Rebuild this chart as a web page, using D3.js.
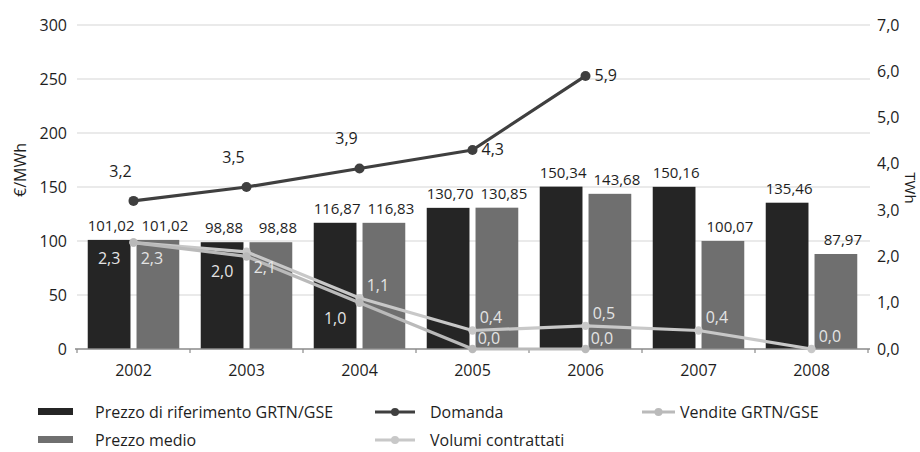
<!DOCTYPE html>
<html>
<head>
<meta charset="utf-8">
<script src="https://cdn.jsdelivr.net/npm/d3@7"></script>
<style>
  html, body { margin: 0; padding: 0; background: #ffffff; }
  svg { display: block; font-family: "Open Sans", "Noto Sans", sans-serif; }
</style>
</head>
<body>
<svg id="chart" width="920" height="452"></svg>
<script>
// ---- data ----
const years = ["2002", "2003", "2004", "2005", "2006", "2007", "2008"];
const prezzoRiferimento = [101.02, 98.88, 116.87, 130.70, 150.34, 150.16, 135.46];
const prezzoMedio = [101.02, 98.88, 116.83, 130.85, 143.68, 100.07, 87.97];
const domandaYears = ["2002", "2003", "2004", "2005", "2006"];
const domanda = [3.2, 3.5, 3.9, 4.3, 5.9];
const venditeYears = ["2002", "2003", "2004", "2005", "2006"];
const vendite = [2.3, 2.0, 1.0, 0.0, 0.0];
const volumiYears = ["2002", "2003", "2004", "2005", "2006", "2007", "2008"];
const volumi = [2.3, 2.1, 1.1, 0.4, 0.5, 0.4, 0.0];
const leftTicks = [0, 50, 100, 150, 200, 250, 300];
const rightTicks = [0, 1, 2, 3, 4, 5, 6, 7];
const leftTitle = "€/MWh";
const rightTitle = "TWh";
const legendLabels = {
  rif: "Prezzo di riferimento GRTN/GSE",
  medio: "Prezzo medio",
  domanda: "Domanda",
  volumi: "Volumi contrattati",
  vendite: "Vendite GRTN/GSE"
};

// ---- styles ----
const C = {
  rif: "#252525",
  medio: "#6f6f6f",
  domanda: "#3f3f3f",
  vendite: "#bababa",
  volumi: "#c8c8c8",
  grid: "#d6d6d6",
  axis: "#8a8a8a",
  text: "#1e1e1e",
  inner: "#e4e4e4"
};

const locale = d3.formatLocale({decimal: ",", thousands: ".", grouping: [3], currency: ["", "€"]});
const f2 = locale.format(".2f");
const f1 = locale.format(".1f");
const f0 = locale.format("d");

const svg = d3.select("#chart");
const pLeft = 77, pRight = 868, pTop = 25, pBottom = 349;

const x = d3.scaleBand().domain(years).range([pLeft, pRight]).padding(0);
const xs = d3.scaleBand().domain(["rif", "medio"]).range([0, x.bandwidth()])
  .paddingInner(0.124).paddingOuter(0.22);
const y = d3.scaleLinear().domain([0, 300]).range([pBottom, pTop]);
const yR = d3.scaleLinear().domain([0, 7]).range([pBottom, pTop]);
const cx = yr => x(yr) + x.bandwidth() / 2;

// gridlines
svg.append("g").selectAll("line").data(leftTicks.filter(d => d > 0)).join("line")
  .attr("x1", pLeft).attr("x2", pRight + 2)
  .attr("y1", d => y(d)).attr("y2", d => y(d))
  .attr("stroke", C.grid).attr("stroke-width", 1.2);

// left axis
const gL = svg.append("g").attr("transform", `translate(${pLeft},0)`)
  .call(d3.axisLeft(y).tickValues(leftTicks).tickFormat(f0).tickSize(0).tickPadding(10));
gL.select(".domain").remove();
gL.selectAll("text").attr("font-size", 16).attr("fill", C.text).attr("font-family", "Open Sans");

// right axis
const gR = svg.append("g").attr("transform", `translate(${pRight + 2},0)`)
  .call(d3.axisRight(yR).tickValues(rightTicks).tickFormat(f1).tickSize(0).tickPadding(7));
gR.select(".domain").remove();
gR.selectAll("text").attr("font-size", 16).attr("fill", C.text).attr("font-family", "Open Sans");

// axis titles
svg.append("text").attr("transform", `translate(26,170) rotate(-90)`)
  .attr("text-anchor", "middle").attr("font-size", 16).attr("fill", C.text).text(leftTitle);
svg.append("text").attr("transform", `translate(905,188) rotate(90)`)
  .attr("text-anchor", "middle").attr("font-size", 15).attr("fill", C.text).text(rightTitle);

// bars
const barData = years.map((yr, i) => ({yr, rif: prezzoRiferimento[i], medio: prezzoMedio[i]}));
const labelShift = {rif: 2, medio: 7};
const gB = svg.append("g");
["rif", "medio"].forEach(key => {
  gB.selectAll("rect." + key).data(barData).join("rect").attr("class", key)
    .attr("x", d => x(d.yr) + xs(key)).attr("width", xs.bandwidth())
    .attr("y", d => y(d[key])).attr("height", d => y(0) - y(d[key]))
    .attr("fill", C[key]);
  gB.selectAll("text." + key).data(barData).join("text").attr("class", key)
    .attr("x", d => x(d.yr) + xs(key) + xs.bandwidth() / 2 + labelShift[key])
    .attr("y", d => y(d[key]) - 9)
    .attr("text-anchor", "middle").attr("font-size", 15).attr("fill", C.text)
    .text(d => f2(d[key]));
});

// x axis
const gX = svg.append("g").attr("transform", `translate(0,${pBottom})`);
gX.append("line").attr("x1", pLeft - 2).attr("x2", pRight + 2).attr("stroke", C.axis).attr("stroke-width", 1.5);
gX.selectAll("line.tk").data(d3.range(years.length + 1)).join("line").attr("class", "tk")
  .attr("x1", i => pLeft + i * x.bandwidth()).attr("x2", i => pLeft + i * x.bandwidth())
  .attr("y1", 0).attr("y2", 4).attr("stroke", C.axis).attr("stroke-width", 1.2);
gX.selectAll("text").data(years).join("text")
  .attr("x", d => cx(d)).attr("y", 27).attr("text-anchor", "middle")
  .attr("font-size", 16).attr("fill", C.text).text(d => d);

// lines
const line = d3.line().x(d => cx(d.yr)).y(d => yR(d.v));
function series(yrs, vals) { return yrs.map((yr, i) => ({yr, v: vals[i], i})); }
const sVendite = series(venditeYears, vendite);
const sVolumi = series(volumiYears, volumi);
const sDomanda = series(domandaYears, domanda);

function drawLine(data, color, r) {
  const g = svg.append("g");
  g.append("path").datum(data).attr("d", line).attr("fill", "none")
    .attr("stroke", color).attr("stroke-width", 3.2).attr("stroke-linejoin", "round");
  g.selectAll("circle").data(data).join("circle")
    .attr("cx", d => cx(d.yr)).attr("cy", d => yR(d.v)).attr("r", r).attr("fill", color);
  return g;
}
drawLine(sVolumi, C.volumi, 4.2);
drawLine(sVendite, C.vendite, 4.2);
drawLine(sDomanda, C.domanda, 5);

// line labels
const gLab = svg.append("g").attr("font-size", 16).attr("text-anchor", "middle");
gLab.selectAll("text.vend").data(sVendite).join("text").attr("class", "vend")
  .attr("x", d => d.v > 0 ? x(d.yr) + xs("rif") + xs.bandwidth() / 2 : x(d.yr) + xs("medio") + xs.bandwidth() / 2 - 8)
  .attr("y", d => d.v > 0 ? yR(d.v) + 21 : yR(d.v) - 5)
  .attr("fill", C.inner).text(d => f1(d.v));
gLab.selectAll("text.vol").data(sVolumi).join("text").attr("class", "vol")
  .attr("x", d => x(d.yr) + xs("medio") + xs.bandwidth() / 2 - 6)
  .attr("y", d => {
    const py = yR(d.v), barTop = y(prezzoMedio[years.indexOf(d.yr)]);
    return (py - 12 < barTop + 8) ? py + 21 : py - 7;
  })
  .attr("fill", C.inner).text(d => f1(d.v));
gLab.selectAll("text.dom").data(sDomanda).join("text").attr("class", "dom")
  .each(function(d) {
    const n = sDomanda.length;
    const steep = d.i === n - 1 || (sDomanda[d.i + 1].v - d.v) > 1;
    const t = d3.select(this);
    if (steep) {
      t.attr("text-anchor", "start").attr("x", cx(d.yr) + 9).attr("y", yR(d.v) + 5);
    } else {
      t.attr("x", cx(d.yr) - 13).attr("y", yR(d.v) - 24);
    }
  })
  .attr("fill", C.text).text(d => f1(d.v));

// legend
const gLeg = svg.append("g").attr("font-size", 16).attr("fill", C.text);
function legRect(xp, yp, color, label) {
  gLeg.append("rect").attr("x", xp).attr("y", yp - 4).attr("width", 35).attr("height", 7).attr("fill", color);
  gLeg.append("text").attr("x", xp + 57).attr("y", yp + 6).text(label);
}
function legLine(xp, w, yp, color, label, tx) {
  gLeg.append("line").attr("x1", xp).attr("x2", xp + w).attr("y1", yp).attr("y2", yp)
    .attr("stroke", color).attr("stroke-width", 3);
  gLeg.append("circle").attr("cx", xp + w / 2).attr("cy", yp).attr("r", 4).attr("fill", color);
  gLeg.append("text").attr("x", tx).attr("y", yp + 6).text(label);
}
legRect(38, 412, C.rif, legendLabels.rif);
legRect(38, 440, C.medio, legendLabels.medio);
legLine(375, 40, 412, C.domanda, legendLabels.domanda, 430);
legLine(375, 40, 440, C.volumi, legendLabels.volumi, 430);
legLine(642, 33, 412, C.vendite, legendLabels.vendite, 680);
</script>
</body>
</html>
